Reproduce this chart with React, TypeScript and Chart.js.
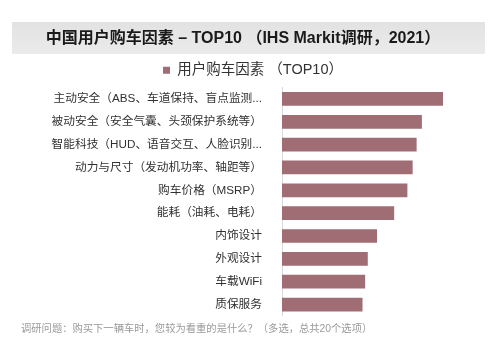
import React, { useEffect, useRef } from "react";
import { Chart, registerables } from "chart.js";

Chart.register(...registerables);

const titleText = "中国用户购车因素 – TOP10 （IHS Markit调研，2021）";
const seriesName = "用户购车因素 （TOP10）";
const footnote = "调研问题：购买下一辆车时，您较为看重的是什么？（多选，总共20个选项）";
const categories = [
  "主动安全（ABS、车道保持、盲点监测...",
  "被动安全（安全气囊、头颈保护系统等）",
  "智能科技（HUD、语音交互、人脸识别...",
  "动力与尺寸（发动机功率、轴距等）",
  "购车价格（MSRP）",
  "能耗（油耗、电耗）",
  "内饰设计",
  "外观设计",
  "车载WiFi",
  "质保服务",
];
const values = [61, 53, 51, 49.5, 47.5, 42.5, 36, 32.5, 31.5, 30.5];

const FONT = "'Liberation Sans', 'Noto Sans CJK SC', sans-serif";

const decor = {
  id: "decor",
  beforeDraw(chart: any) {
    const ctx = chart.ctx;
    ctx.save();
    ctx.fillStyle = "#ffffff";
    ctx.fillRect(0, 0, chart.width, chart.height);
    const g = ctx.createLinearGradient(0, 22, 0, 54);
    g.addColorStop(0, "#e2e2e2");
    g.addColorStop(1, "#ebebeb");
    ctx.fillStyle = g;
    ctx.fillRect(12, 22, 473, 32);
    ctx.fillStyle = "#1a1a1a";
    ctx.font = "bold 16px " + FONT;
    ctx.textAlign = "center";
    ctx.textBaseline = "middle";
    ctx.fillText(titleText, 243, 38.5);
    ctx.fillStyle = "#9a9a9a";
    ctx.font = "10.3px " + FONT;
    ctx.textAlign = "left";
    ctx.fillText(footnote, 21, 329);
    ctx.restore();
  },
};

export default function App() {
  const ref = useRef<HTMLCanvasElement | null>(null);
  useEffect(() => {
    if (!ref.current) return;
    const chart = new Chart(ref.current, {
      type: "bar",
      data: {
        labels: categories,
        datasets: [
          {
            label: seriesName,
            data: values,
            backgroundColor: "#a06d74",
            barPercentage: 0.6,
            categoryPercentage: 1,
          },
        ],
      },
      options: {
        indexAxis: "y",
        animation: false,
        responsive: false,
        layout: { padding: { left: 16, right: 10, top: 59, bottom: 24 } },
        plugins: {
          legend: {
            display: true,
            position: "top",
            labels: {
              boxWidth: 7,
              boxHeight: 7,
              padding: 4,
              color: "#333333",
              font: { size: 14.5, family: FONT },
            },
          },
          tooltip: { enabled: false },
        },
        scales: {
          x: { display: false, min: 0, max: 78.8 },
          y: {
            afterFit(scale: any) {
              scale.width = 266;
            },
            grid: { display: false, drawTicks: false },
            border: { display: true, color: "#d9d9d9", width: 1 },
            ticks: {
              padding: 20,
              color: "#303030",
              font: { size: 11.7, family: FONT },
              autoSkip: false,
            },
          },
        },
      },
      plugins: [decor],
    });
    return () => chart.destroy();
  }, []);
  return (
    <div style={{ position: "absolute", left: 0, top: 0, width: 500, height: 343 }}>
      <canvas ref={ref} width={500} height={343} style={{ width: 500, height: 343 }} />
    </div>
  );
}
